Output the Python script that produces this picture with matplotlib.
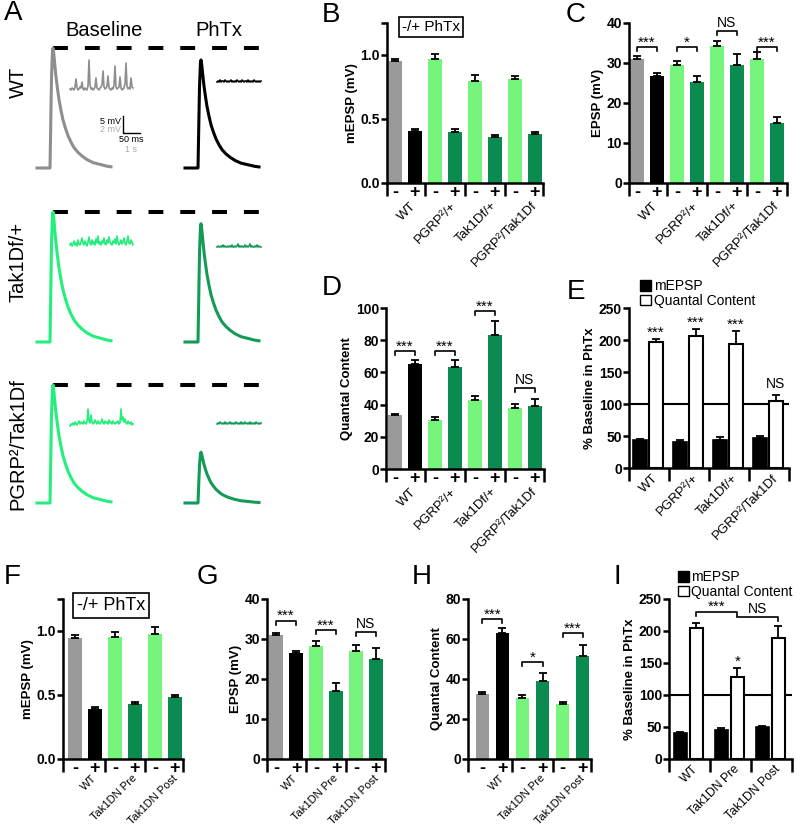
import matplotlib
matplotlib.use('Agg')
import matplotlib.pyplot as plt
from matplotlib.patches import Patch

plt.rcParams['font.family'] = ['Liberation Sans', 'DejaVu Sans']

W, H = 800, 827

def rect(x0, y0, x1, y1):
    # pixel box -> figure fraction
    return [x0 / W, 1 - y1 / H, (x1 - x0) / W, (y1 - y0) / H]

GRAY = '#9a9a9a'
LIGHT = '#77f47c'
DARK = '#0b8b4f'
TR_GRAY = '#8e8e8e'
TR_LIGHT = '#25ef7c'
TR_DARK = '#129a56'

#%% data
groups_top = ['WT', 'PGRP²/+', 'Tak1Df/+', 'PGRP²/Tak1Df']
groups_bot = ['WT', 'Tak1DN Pre', 'Tak1DN Post']

# B  mEPSP (mV), -/+ PhTx
mepsp_top = [0.95, 0.41, 0.97, 0.40, 0.80, 0.36, 0.81, 0.38]
mepsp_top_err = [0.015, 0.01, 0.04, 0.02, 0.04, 0.018, 0.025, 0.015]
# C  EPSP (mV)
epsp_top = [31.1, 26.7, 29.6, 25.2, 34.2, 29.6, 31.0, 15.0]
epsp_top_err = [0.6, 0.8, 0.8, 1.6, 1.2, 2.7, 1.7, 1.5]
epsp_top_sig = [(0, 1, 33.9, '***'), (2, 3, 33.9, '*'), (4, 5, 37.9, 'NS'), (6, 7, 33.9, '***')]
# D  Quantal content
qc_top = [33.3, 65.4, 30.6, 63.1, 43.1, 83.0, 37.9, 39.3]
qc_top_err = [1.0, 2.5, 1.5, 4.4, 2.4, 8.7, 2.5, 4.2]
qc_top_sig = [(0, 1, 73, '***'), (2, 3, 73, '***'), (4, 5, 98, '***'), (6, 7, 50.3, 'NS')]
# E  % baseline in PhTx
pct_mepsp_top = [43.2, 40.6, 44.3, 46.9]
pct_mepsp_top_err = [2.0, 2.5, 3.5, 2.6]
pct_qc_top = [196.9, 205.7, 194.3, 104.2]
pct_qc_top_err = [4.7, 12.0, 20.3, 10.4]
pct_top_sig = ['***', '***', '***', 'NS']

# F
mepsp_bot = [0.945, 0.39, 0.955, 0.43, 0.98, 0.484]
mepsp_bot_err = [0.02, 0.013, 0.035, 0.018, 0.05, 0.016]
# G
epsp_bot = [31.0, 26.4, 28.2, 16.9, 26.9, 24.9]
epsp_bot_err = [0.6, 0.7, 1.3, 2.1, 1.5, 2.9]
epsp_bot_sig = [(0, 1, 34.6, '***'), (2, 3, 32.2, '***'), (4, 5, 31.8, 'NS')]
# H
qc_bot = [32.5, 63.2, 30.3, 39.2, 27.3, 51.5]
qc_bot_err = [0.8, 2.1, 1.7, 4.0, 1.4, 5.5]
qc_bot_sig = [(0, 1, 69.8, '***'), (2, 3, 48.3, '*'), (4, 5, 62.8, '***')]
# I
pct_mepsp_bot = [41.1, 45.3, 50.5]
pct_mepsp_bot_err = [1.6, 2.6, 1.6]
pct_qc_bot = [205.2, 128.6, 188.5]
pct_qc_bot_err = [6.8, 13.1, 19.3]

# A  example traces (EPSP shape, normalised) and minis (px deflection)
epsp_t = [0, 13, 13.5, 14.5, 15.5, 16, 16.8, 17.8, 19, 20.5, 22, 24, 26, 28.5, 31, 34,
          37, 41, 45, 50, 56, 63, 70, 74]
epsp_v = [0, 0, 0.25, 0.75, 0.98, 1.0, 0.95, 0.86, 0.76, 0.66, 0.57, 0.48, 0.40, 0.33,
          0.27, 0.215, 0.17, 0.13, 0.10, 0.07, 0.045, 0.03, 0.015, 0.01]
phtx_scale = [0.90, 0.91, 0.43]

minis_wt = [2, 1, 3, 2, 1, 4, 12, 3, 1, 2, 4, 3, 9, 2, 1, 3, 2, 1, 5, 31, 6, 2, 3, 1, 2, 4,
            13, 3, 2, 1, 3, 4, 6, 20, 4, 2, 3, 5, 15, 3, 2, 1, 3, 2, 6, 25, 4, 2, 3, 4, 14,
            3, 1, 2, 3, 7, 28, 5, 2, 3, 2, 13, 4, 3]
minis_tak = [3, 5, 2, 4, 7, 3, 5, 2, 8, 4, 3, 6, 10, 5, 3, 7, 4, 2, 6, 11, 5, 3, 8, 4, 6,
             3, 9, 5, 12, 4, 6, 3, 7, 5, 10, 4, 3, 8, 5, 11, 6, 4, 3, 7, 5, 9, 4, 12, 6, 3,
             5, 8, 4, 6, 10, 5, 3, 7, 12, 5, 4, 8, 6, 3]
minis_pgrp = [1, 3, 2, 4, 2, 5, 3, 2, 4, 6, 3, 5, 4, 3, 6, 4, 3, 5, 18, 6, 4, 12, 5, 3, 4,
              7, 5, 3, 6, 4, 3, 5, 8, 4, 3, 6, 4, 5, 3, 7, 4, 5, 3, 6, 4, 3, 5, 4, 6, 3, 4,
              18, 7, 10, 5, 8, 4, 3, 6, 4, 3, 5, 2, 3]
minis_wt_phtx = [1, 2, 1, 3, 1, 2, 2, 1, 3, 2, 1, 2, 1, 2, 3, 1, 2, 1, 2, 1, 3, 2, 1, 2, 1,
                 3, 2, 1, 2, 2, 1, 3, 1, 2, 1, 2, 1, 3, 2, 1, 2, 1, 2, 1, 2]
minis_tak_phtx = [1, 2, 1, 1, 2, 1, 3, 1, 2, 1, 1, 2, 1, 2, 1, 3, 1, 1, 2, 1, 2, 4, 1, 2, 1,
                  2, 1, 1, 3, 1, 2, 1, 2, 4, 1, 2, 1, 1, 2, 1, 3, 1, 2, 1, 1]
minis_pgrp_phtx = [1, 2, 1, 3, 2, 1, 2, 1, 3, 1, 2, 1, 2, 3, 1, 2, 1, 2, 1, 3, 2, 1, 2, 1,
                   3, 1, 2, 1, 3, 2, 1, 2, 1, 3, 1, 2, 1, 2, 1, 3, 2, 1, 2, 1, 2]

fig = plt.figure(figsize=(8, 8.27), dpi=100)

#%% A
axA = fig.add_axes(rect(0, 0, 268, 515))
axA.set_xlim(0, 268)
axA.set_ylim(515, 0)
axA.axis('off')

row_top = [48, 212, 385]
row_base = [168, 342, 503]
mini_y = [91, 248, 427]
mini_y_phtx = [83, 248, 425]
base_cols = [TR_GRAY, TR_LIGHT, TR_LIGHT]
phtx_cols = ['black', TR_DARK, TR_DARK]
minis_base = [minis_wt, minis_tak, minis_pgrp]
minis_phtx = [minis_wt_phtx, minis_tak_phtx, minis_pgrp_phtx]

for r in range(3):
    amp = row_base[r] - row_top[r]
    axA.plot([53, 262], [row_top[r]] * 2, color='black', lw=2.9, ls=(0, (3.7, 4.2)))
    axA.plot([37 + t for t in epsp_t], [row_base[r] - amp * v for v in epsp_v],
             color=base_cols[r], lw=2.2)
    axA.plot([185 + t for t in epsp_t], [row_base[r] - amp * phtx_scale[r] * v for v in epsp_v],
             color=phtx_cols[r], lw=2.2)
    mb = minis_base[r]
    axA.plot([70 + i for i in range(len(mb))], [mini_y[r] - m for m in mb],
             color=base_cols[r], lw=1.2)
    mp = minis_phtx[r]
    axA.plot([217 + i for i in range(len(mp))], [mini_y_phtx[r] - m for m in mp],
             color=phtx_cols[r], lw=1.2)

# scale bar
axA.plot([123, 123, 140], [116, 133, 133], color='black', lw=1)
axA.text(121, 121, '5 mV', ha='right', va='center', fontsize=6.5)
axA.text(121, 129, '2 mV', ha='right', va='center', fontsize=6.5, color='#aaaaaa')
axA.text(131, 140, '50 ms', ha='center', va='center', fontsize=6.5)
axA.text(131, 149, '1 s', ha='center', va='center', fontsize=6.5, color='#aaaaaa')

axA.text(104, 30, 'Baseline', ha='center', va='center', fontsize=14.5)
axA.text(219, 30, 'PhTx', ha='center', va='center', fontsize=14.5)
axA.text(18, 82, 'WT', ha='center', va='center', rotation=90, fontsize=14.5)
axA.text(18, 262, 'Tak1Df/+', ha='center', va='center', rotation=90, fontsize=14.5)
axA.text(18, 444, 'PGRP²/Tak1Df', ha='center', va='center', rotation=90, fontsize=14.5)


#%% helpers
def style_axes(ax, yticks, ylabel, ymax, ylabels=None):
    for s in ['top', 'right']:
        ax.spines[s].set_visible(False)
    for s in ['left', 'bottom']:
        ax.spines[s].set_linewidth(1.8)
    ax.set_ylim(0, ymax)
    ax.set_yticks(yticks)
    if ylabels is not None:
        ax.set_yticklabels(ylabels)
    ax.tick_params(axis='y', length=4, width=1.8, labelsize=10, pad=1)
    for lbl in ax.get_yticklabels():
        lbl.set_fontweight('bold')
    ax.set_ylabel(ylabel, fontsize=9.5, fontweight='bold', labelpad=2)
    ax.tick_params(axis='x', length=9, width=1.8)


def bracket(ax, x1, x2, y, txt, dy, fs=11, tick_left=True):
    xs = [x1, x1, x2, x2] if tick_left else [x1, x2, x2]
    ys = [y - dy, y, y, y - dy] if tick_left else [y, y, y - dy]
    ax.plot(xs, ys, color='black', lw=1.2, clip_on=False)
    if txt == 'NS':
        ax.text((x1 + x2) / 2, y + dy * 0.3, txt, ha='center', va='bottom', fontsize=10)
    else:
        ax.text((x1 + x2) / 2, y - dy * 0.6, txt, ha='center', va='bottom', fontsize=fs)


def paired_panel(box, means, errs, groups, ymax, yticks, ylabel, xlim, sig=None,
                 ylabels=None, gfs=9.5, goff=(4, -12)):
    ax = fig.add_axes(rect(*box))
    n = len(means)
    x = list(range(n))
    colors = [GRAY, 'black'] + [LIGHT, DARK] * (n // 2 - 1)
    ax.bar(x, means, width=0.68, color=colors, zorder=2)
    ax.errorbar(x, means, yerr=[[0] * n, errs], fmt='none', ecolor='black',
                elinewidth=1.3, capsize=3, capthick=1.3, zorder=3)
    ax.set_xlim(xlim)
    style_axes(ax, yticks, ylabel, ymax, ylabels)
    bounds = [xlim[0]] + [1.5 + 2 * k for k in range(n // 2 - 1)] + [xlim[1]]
    ax.set_xticks(bounds)
    ax.set_xticklabels([])
    for i in x:
        ax.annotate('-' if i % 2 == 0 else '+', xy=(i, 0), xytext=(0, -1),
                    textcoords='offset points', ha='center', va='top',
                    fontsize=13, fontweight='bold')
    for g, name in enumerate(groups):
        ax.annotate(name, xy=(2 * g + 0.5, 0), xytext=goff, textcoords='offset points',
                    rotation=45, rotation_mode='anchor', ha='right', va='top', fontsize=gfs)
    if sig:
        for a, b, y, txt in sig:
            bracket(ax, a, b, y, txt, ymax * 0.025)
    return ax


def pct_panel(box, m, m_err, q, q_err, groups, xlim, gfs=9.5):
    ax = fig.add_axes(rect(*box))
    n = len(m)
    xb = [g - 0.22 for g in range(n)]
    xw = [g + 0.17 for g in range(n)]
    ax.axhline(100, color='black', lw=1.5, zorder=1)
    ax.bar(xb, m, width=0.34, color='black', edgecolor='black', lw=1.2, zorder=2)
    ax.bar(xw, q, width=0.34, color='white', edgecolor='black', lw=1.5, zorder=2)
    ax.errorbar(xb, m, yerr=[[0] * n, m_err], fmt='none', ecolor='black',
                elinewidth=1.3, capsize=3, capthick=1.3, zorder=3)
    ax.errorbar(xw, q, yerr=[[0] * n, q_err], fmt='none', ecolor='black',
                elinewidth=1.3, capsize=3, capthick=1.3, zorder=3)
    ax.set_xlim(xlim)
    style_axes(ax, [0, 50, 100, 150, 200, 250], '% Baseline in PhTx', 250)
    ax.set_xticks([xlim[0]] + [g + 0.5 for g in range(n - 1)] + [xlim[1]])
    ax.set_xticklabels([])
    for g, name in enumerate(groups):
        ax.annotate(name, xy=(g, 0), xytext=(2, -3), textcoords='offset points',
                    rotation=45, rotation_mode='anchor', ha='right', va='top', fontsize=gfs)
    ax.legend(handles=[Patch(fc='black', ec='black'), Patch(fc='white', ec='black')],
              labels=['mEPSP', 'Quantal Content'], frameon=False, fontsize=10,
              loc='lower left', bbox_to_anchor=(0.07, 1.0), handlelength=0.8,
              handleheight=0.8, handletextpad=0.2, labelspacing=0.05,
              borderaxespad=0, borderpad=0)
    return ax, xw


#%% top row
axB = paired_panel((387, 23, 543, 183), mepsp_top, mepsp_top_err, groups_top, 1.25,
                   [0, 0.5, 1.0, 1.25], 'mEPSP (mV)', (-0.4, 7.4),
                   ylabels=['0.0', '0.5', '1.0', ''])
axB.text(0.28, 0.975, '-/+ PhTx', transform=axB.transAxes, ha='center', va='center',
         fontsize=11, bbox=dict(boxstyle='square,pad=0.2', fc='white', ec='black', lw=1.2))

axC = paired_panel((629, 23, 787, 183), epsp_top, epsp_top_err, groups_top, 40,
                   [0, 10, 20, 30, 40], 'EPSP (mV)', (-0.4, 7.5), sig=epsp_top_sig)

axD = paired_panel((386, 308, 544, 469), qc_top, qc_top_err, groups_top, 100,
                   [0, 20, 40, 60, 80, 100], 'Quantal Content', (-0.45, 7.45), sig=qc_top_sig)

axE, xwE = pct_panel((629, 308, 789, 468), pct_mepsp_top, pct_mepsp_top_err,
                     pct_qc_top, pct_qc_top_err, groups_top, (-0.5, 3.5))
for i, txt in enumerate(pct_top_sig):
    top = pct_qc_top[i] + pct_qc_top_err[i]
    if txt == 'NS':
        axE.text(xwE[i], top + 6, txt, ha='center', va='bottom', fontsize=10)
    else:
        axE.text(xwE[i], top - 1, txt, ha='center', va='bottom', fontsize=11)

#%% bottom row
axF = paired_panel((63, 599, 183, 759), mepsp_bot, mepsp_bot_err, groups_bot, 1.25,
                   [0, 0.5, 1.0, 1.25], 'mEPSP (mV)', (-0.6, 5.4),
                   ylabels=['0.0', '0.5', '1.0', ''], gfs=8.0, goff=(5, -10))
axF.text(0.4, 0.96, '-/+ PhTx', transform=axF.transAxes, ha='center', va='center',
         fontsize=13, bbox=dict(boxstyle='square,pad=0.2', fc='white', ec='black', lw=1.2))

axG = paired_panel((267, 599, 385, 759), epsp_bot, epsp_bot_err, groups_bot, 40,
                   [0, 10, 20, 30, 40], 'EPSP (mV)', (-0.45, 5.45), sig=epsp_bot_sig,
                   gfs=8.0, goff=(5, -10))

axH = paired_panel((468, 599, 591, 759), qc_bot, qc_bot_err, groups_bot, 80,
                   [0, 20, 40, 60, 80], 'Quantal Content', (-0.72, 5.42), sig=qc_bot_sig,
                   gfs=8.0, goff=(5, -10))

axI, xwI = pct_panel((669, 599, 792, 759), pct_mepsp_bot, pct_mepsp_bot_err,
                     pct_qc_bot, pct_qc_bot_err, groups_bot, (-0.5, 2.5), gfs=8.8)
bracket(axI, xwI[0], xwI[1], 230, '***', 6)
bracket(axI, xwI[1], xwI[2], 222, 'NS', 6, tick_left=False)
axI.text(xwI[1], pct_qc_bot[1] + pct_qc_bot_err[1] - 1, '*', ha='center', va='bottom', fontsize=11)

#%% panel letters
for letter, px, py in [('A', 4, 0), ('B', 322, 2), ('C', 566, 2), ('D', 322, 275),
                       ('E', 567, 279), ('F', 4, 564), ('G', 197, 564), ('H', 412, 564),
                       ('I', 613, 564)]:
    fig.text(px / W, 1 - py / H, letter, ha='left', va='top', fontsize=20)

fig.savefig('out.png', dpi=100)
